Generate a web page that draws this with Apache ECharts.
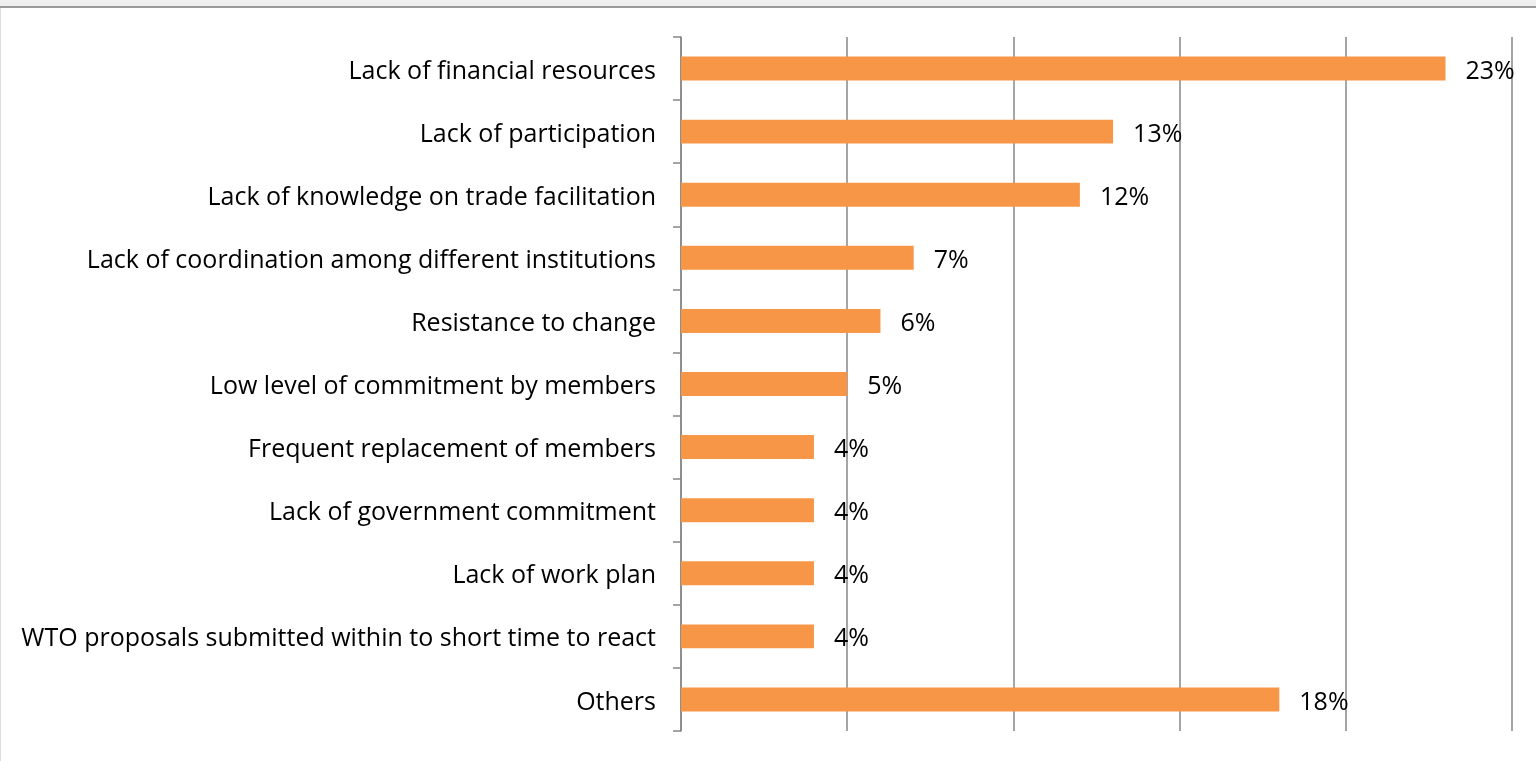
<!DOCTYPE html>
<html>
<head>
<meta charset="utf-8">
<style>
  html, body { margin: 0; padding: 0; width: 1536px; height: 761px; overflow: hidden; background: #fff; }
  #strip { position: absolute; left: 0; top: 0; width: 1536px; height: 6px; background: #efefef; }
  #rule { position: absolute; left: 0; top: 6px; width: 1536px; height: 2px; background: #9a9a9a; }
  #edge { position: absolute; left: 0; top: 8px; width: 1px; height: 753px; background: #dcdcdc; }
  #chart { position: absolute; left: 0; top: 0; width: 1536px; height: 761px; }
</style>
<script src="https://cdn.jsdelivr.net/npm/echarts@6/dist/echarts.min.js"></script>
</head>
<body>
<div id="chart"></div>
<div id="strip"></div>
<div id="rule"></div>
<div id="edge"></div>
<script>
// Reported obstacles, top to bottom
const categories = [
  'Lack of financial resources',
  'Lack of participation',
  'Lack of knowledge on trade facilitation',
  'Lack of coordination among different institutions',
  'Resistance to change',
  'Low level of commitment by members',
  'Frequent replacement of members',
  'Lack of government commitment',
  'Lack of work plan',
  'WTO proposals submitted within to short time to react',
  'Others'
];
// Share of responses, percent
const shares = [23, 13, 12, 7, 6, 5, 4, 4, 4, 4, 18];

const FONT = '"Open Sans", "DejaVu Sans", sans-serif';
const GRID_GRAY = '#878787';

const chart = echarts.init(document.getElementById('chart'), null, { renderer: 'canvas' });
chart.setOption({
  animation: false,
  backgroundColor: '#ffffff',
  grid: { left: 681, right: 24, top: 37, bottom: 30, containLabel: false },
  xAxis: {
    type: 'value',
    min: 0,
    max: 25,
    interval: 5,
    axisLine: { show: false },
    axisTick: { show: false },
    axisLabel: { show: false },
    splitLine: { show: true, lineStyle: { color: GRID_GRAY, width: 1.5 } }
  },
  yAxis: {
    type: 'category',
    inverse: true,
    data: categories,
    axisLine: { show: true, lineStyle: { color: GRID_GRAY, width: 1.5 } },
    axisTick: { show: true, length: 8, lineStyle: { color: GRID_GRAY, width: 1.5 } },
    axisLabel: {
      color: '#000', fontFamily: FONT, fontSize: 25, margin: 25,
      // a little top padding sits the text slightly below the band centre
      formatter: v => '{t|' + v + '}',
      rich: { t: { color: '#000', fontFamily: FONT, fontSize: 25, padding: [6, 0, 0, 0] } }
    },
    splitLine: { show: false }
  },
  series: [{
    type: 'bar',
    data: shares,
    barWidth: '38%',
    itemStyle: { color: '#F79646' },
    label: {
      show: true,
      position: 'right',
      distance: 20,
      offset: [0, 3],
      formatter: p => p.value + '%',
      color: '#000',
      fontFamily: FONT,
      fontSize: 25
    }
  }]
});
</script>
</body>
</html>
